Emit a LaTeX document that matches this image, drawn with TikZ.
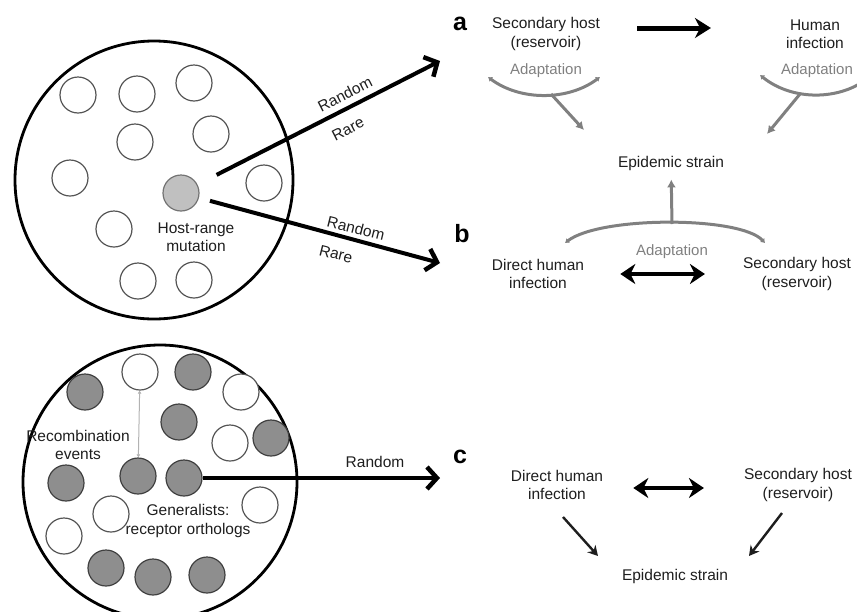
\documentclass[tikz,border=0pt]{standalone}
\usepackage{fontspec}
\setmainfont{Liberation Sans}
\usetikzlibrary{arrows.meta}
\definecolor{txt}{HTML}{1E1E1E}
\definecolor{arrgray}{HTML}{808080}
\definecolor{ringgray}{HTML}{555555}
\definecolor{fillA}{HTML}{C0C0C0}
\definecolor{fillB}{HTML}{8E8E8E}
\begin{document}
\begin{tikzpicture}[x=1pt,y=-1pt,
  every node/.style={font=\fontsize{15.5}{18.5}\selectfont, text=txt, inner sep=0pt, align=center},
  pop/.style={circle, draw=black, line width=2.8pt, minimum size=#1},
  cell/.style={circle, draw=ringgray, line width=1.2pt, minimum size=36pt, fill=white},
  cellA/.style={cell, fill=fillA, draw=black!55},
  cellB/.style={cell, fill=fillB, draw=black!75},
  bigarrow/.style={line width=4pt, -{Straight Barb[length=10pt,width=22pt,line width=4.5pt]}},
  dblarrow/.style={line width=4.5pt, {Stealth[length=15pt,width=20pt]}-{Stealth[length=15pt,width=20pt]}},
  onearrow/.style={line width=5pt, -{Stealth[length=16pt,width=20pt]}},
  thinarrow/.style={line width=2.4pt, draw=txt, -{Stealth[length=10pt,width=11pt]}},
  grayarrow/.style={line width=3pt, draw=arrgray, -{Latex[length=8pt,width=9pt]}},
  arcline/.style={line width=3pt, draw=arrgray, {Latex[length=4pt,width=6pt]}-{Latex[length=4pt,width=6pt]}},
  graytext/.style={text=arrgray, font=\fontsize{15}{17}\selectfont},
  panel/.style={font=\fontsize{25}{25}\selectfont\bfseries, text=black},
]
\useasboundingbox (0,0) rectangle (857,611);
\clip (0,0) rectangle (857,611);

% ---------- top population ----------
\node[pop=278pt] (popA) at (154,180) {};
\node[cell] (t1) at (78,95) {};
\node[cell] (t2) at (137,94) {};
\node[cell] (t3) at (194,83) {};
\node[cell] (t4) at (135,142) {};
\node[cell] (t5) at (211,134) {};
\node[cell] (t6) at (70,178) {};
\node[cellA] (tg) at (181,193) {};
\node[cell] (t8) at (264,183) {};
\node[cell] (t9) at (114,229) {};
\node[cell] (t10) at (138,281) {};
\node[cell] (t11) at (194,280) {};
\node (hrm) at (196,237) {Host-range\\mutation};

\coordinate (endA) at (440,61);
\coordinate (endB) at (440,263);
\draw[bigarrow, shorten <=40pt] (tg.center) -- (endA);
\draw[bigarrow, shorten <=30pt] (tg.center) -- (endB);
\node[rotate=27] (rA1) at (345,94) {Random};
\node[rotate=27] (rA2) at (348,129) {Rare};
\node[rotate=-14] (rB1) at (356,228) {Random};
\node[rotate=-14] (rB2) at (336,254) {Rare};

% ---------- bottom population ----------
\node[pop=274pt] (popB) at (160,482) {};
\node[cellB] (b1) at (85,392) {};
\node[cell] (b2) at (140,372) {};
\node[cellB] (b3) at (193,372) {};
\node[cell] (b4) at (241,392) {};
\node[cellB] (b5) at (179,422) {};
\node[cell] (b6) at (230,443) {};
\node[cellB] (b7) at (271,438) {};
\node[cellB] (b8) at (138,476) {};
\node[cellB] (b9) at (184,478) {};
\node[cellB] (b10) at (66,483) {};
\node[cell] (b11) at (260,505) {};
\node[cell] (b12) at (111,514) {};
\node[cell] (b13) at (64,536) {};
\node[cellB] (b14) at (106,568) {};
\node[cellB] (b15) at (153,577) {};
\node[cellB] (b16) at (207,575) {};
\draw[line width=1pt, draw=black!30, {Latex[length=3pt,width=4pt]}-{Latex[length=3pt,width=4pt]}] (b2) -- (b8);
\node (rec) at (78,445) {Recombination\\events};
\node (gen) at (188,521) {Generalists:\\receptor orthologs};
\coordinate (endC) at (440,478);
\draw[bigarrow] (b9) -- (endC);
\node (rC) at (375,462) {Random};

% ---------- panel a ----------
\node[panel] (la) at (460,24) {a};
\node (sha) at (546,34) {Secondary host\\(reservoir)};
\node (hia) at (815,34) {Human\\infection};
\draw[onearrow, shorten <=37pt, shorten >=75pt] ([yshift=6pt]sha.east) -- ([yshift=6pt]hia.west);
\node[graytext] (ad1) at (546,71) {Adaptation};
\node[graytext] (ad2) at (817,71) {Adaptation};
\coordinate (arc1l) at (488,77);
\coordinate (arc1r) at (600,77);
\coordinate (arc1m) at (551,94);
\coordinate (arc2l) at (760,75);
\coordinate (arc2r) at (872,75);
\coordinate (arc2m) at (800,94);
\coordinate (tipa1) at (584,130);
\coordinate (tipa2) at (767,134);
\draw[arcline] (arc1l) .. controls (520,101) and (568,101) .. (arc1r);
\draw[arcline] (arc2l) .. controls (792,101) and (840,101) .. (arc2r);
\node (epa) at (671,163) {Epidemic strain};
\draw[grayarrow] (arc1m) -- (tipa1);
\draw[grayarrow] (arc2m) -- (tipa2);

% ---------- panel b ----------
\node[panel] (lb) at (462,234) {b};
\coordinate (arc3l) at (565,243);
\coordinate (arc3r) at (765,243);
\coordinate (arc3m) at (672,224);
\draw[arcline] (arc3l) .. controls (600,216) and (740,216) .. (arc3r);
\draw[grayarrow, shorten >=9pt] (arc3m) -- (epa);
\node[graytext] (ad3) at (672,252) {Adaptation};
\node (dhb) at (538,274) {Direct human\\infection};
\node (shb) at (797,274) {Secondary host\\(reservoir)};
\draw[dblarrow, shorten <=36pt, shorten >=38pt] (dhb.east) -- (shb.west);

% ---------- panel c ----------
\node[panel] (lc) at (460,457) {c};
\node (dhc) at (557,485) {Direct human\\infection};
\node (shc) at (798,485) {Secondary host\\(reservoir)};
\node (epc) at (675,576) {Epidemic strain};
\coordinate (c1s) at (563,517);
\coordinate (c1e) at (598,556);
\coordinate (c2s) at (782,513);
\coordinate (c2e) at (749,556);
\draw[dblarrow, shorten <=30pt, shorten >=40pt] ([yshift=-3pt]dhc.east) -- ([yshift=-3pt]shc.west);
\draw[thinarrow] (c1s) -- (c1e);
\draw[thinarrow] (c2s) -- (c2e);
\end{tikzpicture}
\end{document}
